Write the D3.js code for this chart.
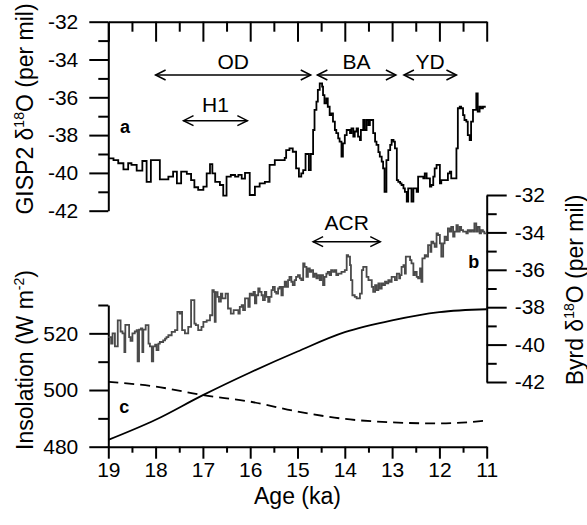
<!DOCTYPE html>
<html>
<head>
<meta charset="utf-8">
<script src="https://cdn.jsdelivr.net/npm/d3@7"></script>
<style>
  html, body { margin: 0; padding: 0; background: #fff; }
  svg { display: block; }
</style>
</head>
<body>
<svg id="chart" width="587" height="525"></svg>
<script>
// ---- Age axis ticks (ka) ----
const ageMajor = [19, 18, 17, 16, 15, 14, 13, 12, 11];
const ageMinor = [18.5, 17.5, 16.5, 15.5, 14.5, 13.5, 12.5, 11.5];

// ---- GISP2 δ18O (per mil), step record: start age of each step ----
const gispAge = [19.00,18.89,18.79,18.68,18.58,18.51,18.40,18.28,18.19,18.10,17.91,17.73,17.63,17.55,17.46,17.34,17.25,17.18,17.10,16.99,16.92,16.85,16.80,16.74,16.64,16.57,16.50,16.41,16.32,16.25,16.18,16.11,16.01,15.90,15.80,15.69,15.59,15.48,15.27,15.24,15.17,15.10,15.03,14.97,14.92,14.88,14.83,14.76,14.72,14.67,14.64,14.60,14.57,14.53,14.48,14.46,14.43,14.39,14.36,14.32,14.29,14.25,14.21,14.18,14.14,14.11,14.07,14.04,14.00,13.96,13.89,13.86,13.82,13.79,13.75,13.72,13.68,13.66,13.61,13.58,13.54,13.50,13.47,13.40,13.36,13.33,13.29,13.26,13.22,13.19,13.16,13.12,13.08,13.04,13.01,12.97,12.94,12.90,12.87,12.83,12.80,12.76,12.73,12.69,12.66,12.59,12.55,12.48,12.45,12.34,12.31,12.27,12.20,12.17,12.13,12.10,12.06,11.99,11.96,11.82,11.78,11.75,11.64,11.61,11.57,11.54,11.50,11.47,11.43,11.40,11.36,11.33,11.29,11.22,11.19,11.15,11.12,11.08,11.02];
const gispD18O = [-39.23,-39.32,-39.49,-39.81,-39.49,-39.58,-39.88,-39.37,-40.47,-39.32,-40.34,-40.20,-39.93,-40.55,-39.93,-40.05,-40.38,-40.76,-40.90,-40.73,-40.02,-39.54,-40.02,-40.47,-40.64,-41.20,-40.20,-40.11,-40.20,-40.10,-40.30,-40.00,-41.17,-40.73,-40.55,-40.47,-39.58,-39.32,-39.20,-38.79,-38.70,-38.88,-39.76,-40.20,-40.02,-39.85,-39.00,-39.85,-39.00,-37.73,-36.67,-36.23,-35.61,-35.26,-35.44,-35.88,-36.32,-36.06,-36.50,-36.94,-36.85,-37.29,-37.73,-37.90,-38.17,-38.35,-39.14,-38.44,-38.00,-37.73,-37.90,-37.64,-38.08,-37.81,-37.64,-38.08,-38.26,-37.73,-37.20,-37.73,-37.20,-37.47,-37.20,-37.90,-38.35,-38.52,-38.90,-39.14,-39.40,-39.76,-41.00,-39.32,-38.79,-38.52,-38.26,-38.35,-38.70,-40.38,-40.47,-40.55,-40.64,-40.82,-41.00,-41.52,-40.82,-41.52,-40.82,-41.00,-40.20,-40.29,-40.02,-40.29,-40.73,-40.64,-40.20,-39.76,-39.58,-40.55,-40.38,-40.02,-39.93,-40.29,-38.70,-36.58,-36.50,-36.58,-36.94,-37.20,-37.29,-38.00,-38.26,-37.29,-36.67,-35.79,-36.76,-36.50,-36.58,-36.50,-36.50];

// ---- Byrd δ18O (per mil), step record ----
const byrdAge = [19.00,18.94,18.91,18.86,18.80,18.74,18.70,18.66,18.64,18.56,18.53,18.49,18.44,18.40,18.38,18.35,18.31,18.28,18.26,18.21,18.15,18.12,18.08,18.05,18.01,17.98,17.94,17.91,17.84,17.80,17.77,17.73,17.66,17.59,17.54,17.49,17.45,17.44,17.38,17.31,17.25,17.18,17.15,17.10,17.03,16.99,16.92,16.85,16.80,16.77,16.75,16.73,16.69,16.66,16.62,16.59,16.52,16.47,16.41,16.35,16.25,16.22,16.18,16.15,16.11,16.04,16.01,15.97,15.93,15.90,15.87,15.83,15.80,15.76,15.73,15.69,15.66,15.62,15.59,15.55,15.52,15.48,15.45,15.41,15.38,15.34,15.31,15.27,15.24,15.20,15.17,15.13,15.10,15.06,15.03,14.99,14.95,14.92,14.88,14.85,14.81,14.78,14.74,14.71,14.67,14.64,14.60,14.57,14.53,14.50,14.46,14.43,14.39,14.36,14.32,14.29,14.25,14.21,14.18,14.14,14.07,14.00,13.96,13.93,13.89,13.87,13.84,13.79,13.75,13.68,13.64,13.61,13.54,13.50,13.43,13.40,13.36,13.33,13.29,13.26,13.22,13.19,13.15,13.12,13.08,13.05,13.01,12.94,12.90,12.85,12.83,12.80,12.76,12.73,12.71,12.62,12.59,12.55,12.52,12.48,12.45,12.41,12.38,12.36,12.31,12.28,12.24,12.19,12.17,12.13,12.10,12.06,12.03,11.99,11.96,11.92,11.89,11.85,11.82,11.78,11.75,11.71,11.68,11.64,11.61,11.57,11.54,11.50,11.43,11.40,11.36,11.33,11.29,11.26,11.22,11.19,11.15,11.12,11.08,11.05,11.00];
const byrdD18O = [-39.60,-39.95,-39.40,-40.10,-38.70,-39.30,-39.40,-40.40,-38.95,-39.60,-39.80,-39.40,-39.30,-39.23,-40.90,-39.20,-39.14,-40.40,-39.20,-38.96,-39.95,-40.10,-40.90,-40.10,-40.00,-40.30,-39.95,-39.86,-39.77,-39.68,-39.60,-39.50,-39.32,-39.23,-38.25,-38.34,-38.25,-39.23,-39.40,-39.05,-37.62,-38.88,-38.96,-39.23,-39.05,-38.79,-38.70,-38.43,-37.09,-37.18,-38.79,-37.20,-37.45,-37.70,-37.27,-37.53,-37.27,-38.07,-38.34,-38.16,-38.34,-37.98,-37.89,-38.16,-37.53,-37.98,-37.27,-37.36,-37.18,-37.80,-37.36,-37.00,-37.18,-37.36,-37.62,-37.18,-37.45,-37.71,-37.45,-37.09,-36.91,-37.18,-37.27,-37.00,-36.91,-37.36,-36.91,-36.64,-36.91,-36.55,-36.38,-36.64,-36.82,-36.55,-36.38,-36.29,-36.46,-36.55,-35.66,-35.84,-36.38,-35.93,-36.11,-36.02,-36.38,-36.20,-36.46,-36.29,-36.55,-36.29,-36.82,-36.38,-36.20,-36.11,-36.29,-36.02,-36.11,-36.02,-36.29,-36.20,-36.11,-36.02,-35.21,-35.30,-35.75,-36.55,-37.36,-37.45,-37.53,-37.27,-36.02,-35.84,-36.38,-36.55,-36.91,-37.18,-36.82,-37.09,-36.73,-37.00,-36.73,-36.82,-36.64,-36.73,-36.55,-36.64,-36.38,-36.55,-36.20,-36.46,-36.29,-35.84,-35.75,-36.20,-35.30,-35.48,-35.66,-36.29,-36.11,-36.38,-36.46,-35.93,-36.64,-35.39,-35.21,-35.30,-34.68,-35.04,-34.50,-34.59,-34.77,-34.05,-34.14,-34.59,-35.30,-34.59,-34.23,-34.41,-33.79,-33.96,-33.70,-34.23,-33.96,-33.61,-33.96,-33.70,-33.88,-33.96,-34.05,-33.88,-33.96,-33.88,-33.96,-33.52,-33.96,-33.70,-34.05,-33.88,-33.96,-34.05,-34.05];

// ---- Insolation (W m-2) ----
const insolAge    = [19, 18, 17, 16, 15, 14, 13, 12, 11];
const insolSolid  = [482.4, 489.5, 498.2, 506.2, 513.6, 520.4, 524.6, 527.5, 528.5];
const insolDashed = [502.9, 501.2, 498.2, 495.9, 492.4, 489.8, 488.6, 488.2, 489.2];

// ---- Climate intervals (start age, end age) ----
const periodNames = ["OD", "BA", "YD", "H1"];
const periodStart = [18.0, 14.58, 12.75, 17.41];
const periodEnd   = [14.72, 12.92, 11.64, 16.06];
const acrName = "ACR";
const acrStart = 14.67, acrEnd = 13.25;

// ---------------------------------------------------------------
const FONT = '"Liberation Sans", Arial, Helvetica, sans-serif';
const FS = 21;      // tick labels and interval labels
const FT = 23;      // axis titles
const svg = d3.select("#chart");

const x  = d3.scaleLinear().domain([19, 11]).range([108.3, 486.7]);
const yA = d3.scaleLinear().domain([-42, -32]).range([210.7, 21.7]);
const yB = d3.scaleLinear().domain([-42, -32]).range([382, 195]);
const yC = d3.scaleLinear().domain([480, 530]).range([446.7, 305]);

function styleAxis(g) {
  g.attr("font-family", FONT).attr("font-size", FS);
  g.select(".domain").attr("stroke", "#000").attr("stroke-width", 2);
  g.selectAll(".tick line").attr("stroke", "#000").attr("stroke-width", 2);
  g.selectAll(".tick text").attr("fill", "#000");
}
function addAxis(axis, tx, ty, keepDomain) {
  const g = svg.append("g").attr("transform", `translate(${tx},${ty})`).call(axis);
  styleAxis(g);
  if (!keepDomain) g.select(".domain").remove();
  return g;
}
const fmtNum = d => String(d).replace("\u2212", "-");

// Panel a: left axis and top age axis
addAxis(d3.axisLeft(yA).tickValues(d3.range(-41, -32, 2)).tickSize(10).tickFormat(""), 108.3, 0, false);
addAxis(d3.axisLeft(yA).tickValues(d3.range(-42, -31, 2)).tickSize(19).tickPadding(11).tickSizeOuter(0).tickFormat(fmtNum), 108.3, 0, true);
addAxis(d3.axisBottom(x).tickValues(ageMinor).tickSize(10).tickFormat(""), 0, 21.7, false);
addAxis(d3.axisBottom(x).tickValues(ageMajor).tickSize(20).tickSizeOuter(0).tickFormat(""), 0, 21.7, true);

// Panel b: right axis
addAxis(d3.axisRight(yB).tickValues(d3.range(-41, -32, 2)).tickSize(10).tickFormat(""), 486.7, 0, false);
addAxis(d3.axisRight(yB).tickValues(d3.range(-42, -31, 2)).tickSize(20).tickPadding(8).tickSizeOuter(0).tickFormat(fmtNum), 486.7, 0, true);

// Panel c: left axis and bottom age axis
addAxis(d3.axisLeft(yC).tickValues([490, 510, 530]).tickSize(10).tickFormat(""), 108.3, 0, false);
addAxis(d3.axisLeft(yC).tickValues([480, 500, 520]).tickSize(19).tickPadding(11).tickSizeOuter(0), 108.3, 0, true);
addAxis(d3.axisBottom(x).tickValues(ageMinor).tickSize(6).tickFormat(""), 0, 446.7, false);
addAxis(d3.axisBottom(x).tickValues(ageMajor).tickSize(12).tickPadding(3).tickSizeOuter(0), 0, 446.7, true);

// Series
const stepLine = (yScale) => d3.line().x(d => x(d[0])).y(d => yScale(d[1])).curve(d3.curveStepAfter);

svg.append("path")
  .datum(d3.zip(gispAge, gispD18O))
  .attr("d", stepLine(yA))
  .attr("fill", "none").attr("stroke", "#000").attr("stroke-width", 1.8);

svg.append("path")
  .datum(d3.zip(byrdAge, byrdD18O))
  .attr("d", stepLine(yB))
  .attr("fill", "none").attr("stroke", "#4a4a4a").attr("stroke-width", 1.8);

const smooth = d3.line().x(d => x(d[0])).y(d => yC(d[1])).curve(d3.curveMonotoneX);
svg.append("path")
  .datum(d3.zip(insolAge, insolSolid))
  .attr("d", smooth)
  .attr("fill", "none").attr("stroke", "#000").attr("stroke-width", 1.8);
svg.append("path")
  .datum(d3.zip(insolAge, insolDashed))
  .attr("d", smooth)
  .attr("fill", "none").attr("stroke", "#000").attr("stroke-width", 1.8)
  .attr("stroke-dasharray", "10,6");

// Double-headed interval arrows with labels
function intervalArrow(a0, a1, yPix, label, labelBase) {
  const x0 = x(a0), x1 = x(a1), h = 10, v = 5;
  const g = svg.append("g").attr("fill", "none").attr("stroke", "#000").attr("stroke-width", 1.5);
  g.append("path").attr("d", `M${x0},${yPix}H${x1}`);
  g.append("path").attr("d", `M${x0 + h},${yPix - v}L${x0},${yPix}L${x0 + h},${yPix + v}`);
  g.append("path").attr("d", `M${x1 - h},${yPix - v}L${x1},${yPix}L${x1 - h},${yPix + v}`);
  svg.append("text")
    .attr("x", (x0 + x1) / 2).attr("y", labelBase)
    .attr("text-anchor", "middle")
    .attr("font-family", FONT).attr("font-size", FS)
    .text(label);
}
const arrowRow = [75, 75, 75, 120.7];
const labelRow = [68.5, 68.5, 68.5, 112];
periodNames.forEach((n, i) => intervalArrow(periodStart[i], periodEnd[i], arrowRow[i], n, labelRow[i]));
intervalArrow(acrStart, acrEnd, 241.7, acrName, 230);

// Panel letters
[["a", 120, 132.7], ["b", 468.3, 268.3], ["c", 119.3, 413.3]].forEach(([t, px, py]) => {
  svg.append("text").attr("x", px).attr("y", py)
    .attr("font-family", FONT).attr("font-size", 18).attr("font-weight", "bold")
    .text(t);
});

// Axis titles (with superscripts)
function axisTitle(tx, ty, rot, parts) {
  const t = svg.append("text")
    .attr("transform", `translate(${tx},${ty}) rotate(${rot})`)
    .attr("text-anchor", "middle")
    .attr("font-family", FONT).attr("font-size", FT);
  let raised = false;
  parts.forEach(([s, sup]) => {
    const sp = t.append("tspan").text(s);
    if (sup && !raised) { sp.attr("font-size", 14).attr("dy", -9); raised = true; }
    else if (!sup && raised) { sp.attr("dy", 9); raised = false; }
  });
}
axisTitle(33, 109, -90, [["GISP2 \u03B4"], ["18", true], ["O (per mil)"]]);
axisTitle(33, 360, -90, [["Insolation (W m"], ["-2", true], [")"]]);
axisTitle(583, 290, -90, [["Byrd \u03B4"], ["18", true], ["O (per mil)"]]);
svg.append("text")
  .attr("x", (x(19) + x(11)) / 2).attr("y", 504)
  .attr("text-anchor", "middle")
  .attr("font-family", FONT).attr("font-size", FT)
  .text("Age (ka)");
</script>
</body>
</html>
